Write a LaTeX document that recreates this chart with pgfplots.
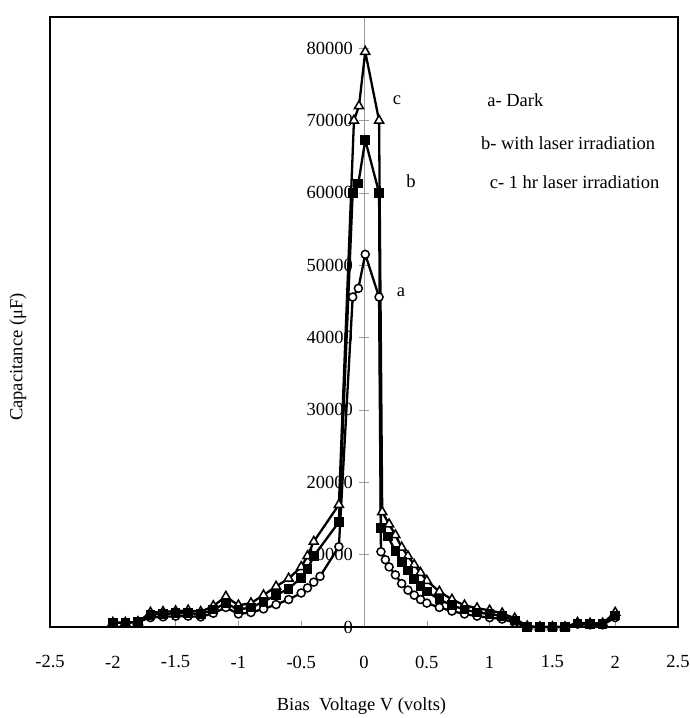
\documentclass[border=0pt]{standalone}
\usepackage{pgfplots}
\pgfplotsset{compat=1.18}
\usepackage{fontspec}
\setmainfont{Liberation Serif}
\newcommand{\tfont}{\fontsize{18.5}{21}\selectfont}

\pgfplotstableread{
x y
-2.0 600
-1.9 600
-1.8 700
-1.7 1300
-1.6 1400
-1.5 1500
-1.4 1500
-1.3 1400
-1.2 1900
-1.1 2700
-1.0 1800
-0.9 2000
-0.8 2500
-0.7 3100
-0.6 3800
-0.5 4700
-0.45 5400
-0.4 6200
-0.35 7000
-0.2 11100
-0.09 45600
-0.045 46800
0.01 51500
0.12 45600
0.135 10400
0.17 9300
0.2 8300
0.25 7200
0.3 6000
0.35 5100
0.4 4400
0.45 3800
0.5 3300
0.6 2700
0.7 2200
0.8 1800
0.9 1500
1.0 1300
1.1 1100
1.2 600
1.3 0
1.4 0
1.5 0
1.6 0
1.7 400
1.8 300
1.9 300
2.0 1300
}\seriesA

\pgfplotstableread{
x y
-2.0 600
-1.9 600
-1.8 700
-1.7 1700
-1.6 1800
-1.5 1900
-1.4 1900
-1.3 1800
-1.2 2400
-1.1 3300
-1.0 2400
-0.9 2700
-0.8 3500
-0.7 4400
-0.6 5300
-0.5 6800
-0.45 8000
-0.4 9800
-0.2 14500
-0.09 60000
-0.045 61300
0.01 67300
0.12 60000
0.135 13700
0.19 12500
0.25 10500
0.3 9000
0.35 7800
0.4 6600
0.45 5700
0.5 4900
0.6 3800
0.7 3000
0.8 2400
0.9 2000
1.0 1800
1.1 1500
1.2 900
1.3 0
1.4 0
1.5 0
1.6 0
1.7 500
1.8 400
1.9 400
2.0 1600
}\seriesB

\pgfplotstableread{
x y
-2.0 600
-1.9 600
-1.8 700
-1.7 2000
-1.6 2100
-1.5 2200
-1.4 2300
-1.3 2100
-1.2 2900
-1.1 4200
-1.0 3000
-0.9 3300
-0.8 4400
-0.7 5600
-0.6 6700
-0.5 8300
-0.45 9800
-0.4 11800
-0.2 16900
-0.08 70000
-0.04 72000
0.01 79500
0.12 70000
0.145 15900
0.2 14200
0.25 12700
0.3 11000
0.35 9800
0.4 8600
0.45 7500
0.5 6400
0.6 4900
0.7 3800
0.8 3000
0.9 2600
1.0 2300
1.1 1900
1.2 1200
1.3 100
1.4 0
1.5 0
1.6 0
1.7 600
1.8 500
1.9 500
2.0 2000
}\seriesC

\begin{document}
\begin{tikzpicture}
% middle y axis
\begin{axis}[
  at={(0,0)}, anchor=south west,
  scale only axis, width=628pt, height=610pt,
  xmin=-2.5, xmax=2.5, ymin=0, ymax=84300,
  axis x line=none, axis y line=middle,
  axis line style={gray!80, line width=0.6pt, -},
  ytick={0,10000,20000,30000,40000,50000,60000,70000,80000},
  yticklabels={0,10000,20000,30000,40000,50000,60000,70000,80000},
  scaled y ticks=false,
  tick align=center, major tick length=10pt,
  ytick style={gray!80, line width=0.6pt},
  yticklabel style={font=\tfont, anchor=east, inner sep=0pt, xshift=-6pt},
  xtick=\empty, clip=false]
\addplot[draw=none] coordinates {(0,0)};
\end{axis}
% data + frame
\begin{axis}[
  at={(0,0)}, anchor=south west,
  scale only axis, width=628pt, height=610pt,
  xmin=-2.5, xmax=2.5, ymin=0, ymax=84300,
  axis line style={black, line width=1.2pt},
  ytick=\empty,
  xtick={-2.5,-2,-1.5,-1,-0.5,0,0.5,1,1.5,2,2.5},
  xticklabels={-2.5,-2,-1.5,-1,-0.5,0,0.5,1,1.5,2,2.5},
  xtick pos=left, tick align=inside, major tick length=6pt,
  xtick style={gray!80, line width=0.6pt},
  xticklabel style={font=\tfont, anchor=center, yshift=-35pt},
  clip=false]
\draw[line width=2pt] (axis cs:-2.5,0) -- (axis cs:2.5,0);
\addplot[black, line width=2.3pt, mark=*, mark size=4pt, mark options={fill=white, line width=1.5pt}] table[x=x,y=y] {\seriesA};
\addplot[black, line width=2.3pt, mark=triangle*, mark size=5.2pt, mark options={fill=white, line width=1.5pt}] table[x=x,y=y] {\seriesC};
\addplot[black, line width=2.3pt, mark=square*, mark size=3.7pt, mark options={fill=black}] table[x=x,y=y] {\seriesB};

\node[font=\tfont] at (axis cs:0.263,72830) {c};
\node[font=\tfont] at (axis cs:0.374,61640) {b};
\node[font=\tfont] at (axis cs:0.295,46300) {a};
\node[font=\tfont, anchor=west, inner sep=0pt] at (axis cs:0.98,72830) {a- Dark};
\node[font=\tfont, anchor=west, inner sep=0pt] at (axis cs:0.93,66890) {b- with laser irradiation};
\node[font=\tfont, anchor=west, inner sep=0pt] at (axis cs:1.0,61500) {c- 1 hr laser irradiation};

\node[font=\tfont] at ([yshift=-79pt]axis cs:-0.02,0) {Bias\ \ Voltage V (volts)};
\node[font=\tfont, rotate=90] at ([xshift=-32pt]axis cs:-2.5,37300) {Capacitance (μF)};
\end{axis}
\pgfresetboundingbox
\path (current axis.south west) ++(-50pt,-91pt) rectangle ++(690pt,718pt);
\end{tikzpicture}
\end{document}
